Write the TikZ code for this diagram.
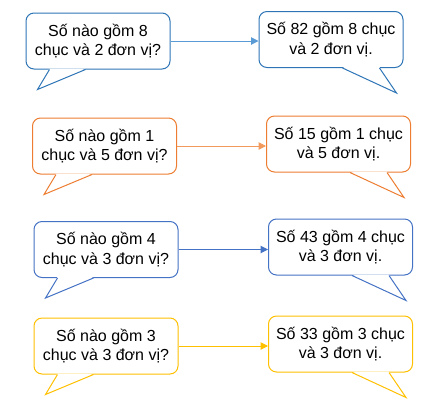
\documentclass[tikz,border=0pt]{standalone}
\usepackage{fontspec}
\setmainfont{Liberation Sans}
\definecolor{qblue}{HTML}{2E75B6}
\definecolor{qlightblue}{HTML}{5B9BD5}
\definecolor{qorange}{HTML}{ED7D31}
\definecolor{qlightorange}{HTML}{F29A5E}
\definecolor{qindigo}{HTML}{4472C4}
\definecolor{qgold}{HTML}{FFC000}
\usetikzlibrary{arrows.meta,calc}

\tikzset{
  bubble/.style={draw,fill=white,rounded corners=6pt,line width=0.75pt,
        minimum width=108pt,minimum height=42pt,align=center,inner sep=0pt,
        font=\fontsize{12}{14.5}\selectfont},
  link/.style={-{Triangle[length=5.5pt,width=5.5pt]},line width=0.75pt},
}

\begin{document}
\begin{tikzpicture}[x=0.75pt,y=-0.75pt]
  \useasboundingbox (0,0) rectangle (436,401);
  % row 1
  \node[bubble,draw=qblue] (q1) at (98,41) {Số nào gồm 8\\chục và 2 đơn vị?};
  \node[bubble,draw=qblue] (a1) at (331,39.5) {Số 82 gồm 8 chục\\và 2 đơn vị.};
  \fill[white] ($(q1.south west)+(24,-1)$) -- ($(q1.south west)+(12,20)$) -- ($(q1.south west)+(60,-1)$) -- cycle;
  \draw[qblue,line width=0.75pt] ($(q1.south west)+(24,0)$) -- ($(q1.south west)+(12,20)$) -- ($(q1.south west)+(60,0)$);
  \fill[white] ($(a1.south west)+(84,-1)$) -- ($(a1.south west)+(138,25)$) -- ($(a1.south west)+(121,-1)$) -- cycle;
  \draw[qblue,line width=0.75pt] ($(a1.south west)+(84,0)$) -- ($(a1.south west)+(138,25)$) -- ($(a1.south west)+(121,0)$);
  \draw[link,qlightblue] (q1.east) -- (q1.east -| a1.west);
  % row 2
  \node[bubble,draw=qorange] (q2) at (104.5,146) {Số nào gồm 1\\chục và 5 đơn vị?};
  \node[bubble,draw=qorange] (a2) at (338.5,144) {Số 15 gồm 1 chục\\và 5 đơn vị.};
  \fill[white] ($(q2.south west)+(24,-1)$) -- ($(q2.south west)+(12,20)$) -- ($(q2.south west)+(60,-1)$) -- cycle;
  \draw[qorange,line width=0.75pt] ($(q2.south west)+(24,0)$) -- ($(q2.south west)+(12,20)$) -- ($(q2.south west)+(60,0)$);
  \fill[white] ($(a2.south west)+(84,-1)$) -- ($(a2.south west)+(138,25)$) -- ($(a2.south west)+(121,-1)$) -- cycle;
  \draw[qorange,line width=0.75pt] ($(a2.south west)+(84,0)$) -- ($(a2.south west)+(138,25)$) -- ($(a2.south west)+(121,0)$);
  \draw[link,qlightorange] (q2.east) -- (q2.east -| a2.west);
  % row 3
  \node[bubble,draw=qindigo] (q3) at (106,249.5) {Số nào gồm 4\\chục và 3 đơn vị?};
  \node[bubble,draw=qindigo] (a3) at (340.5,247) {Số 43 gồm 4 chục\\và 3 đơn vị.};
  \fill[white] ($(q3.south west)+(24,-1)$) -- ($(q3.south west)+(12,20)$) -- ($(q3.south west)+(60,-1)$) -- cycle;
  \draw[qindigo,line width=0.75pt] ($(q3.south west)+(24,0)$) -- ($(q3.south west)+(12,20)$) -- ($(q3.south west)+(60,0)$);
  \fill[white] ($(a3.south west)+(84,-1)$) -- ($(a3.south west)+(138,25)$) -- ($(a3.south west)+(121,-1)$) -- cycle;
  \draw[qindigo,line width=0.75pt] ($(a3.south west)+(84,0)$) -- ($(a3.south west)+(138,25)$) -- ($(a3.south west)+(121,0)$);
  \draw[link,qindigo] (q3.east) -- (q3.east -| a3.west);
  % row 4
  \node[bubble,draw=qgold] (q4) at (106,346) {Số nào gồm 3\\chục và 3 đơn vị?};
  \node[bubble,draw=qgold] (a4) at (340.5,344) {Số 33 gồm 3 chục\\và 3 đơn vị.};
  \fill[white] ($(q4.south west)+(24,-1)$) -- ($(q4.south west)+(12,20)$) -- ($(q4.south west)+(60,-1)$) -- cycle;
  \draw[qgold,line width=0.75pt] ($(q4.south west)+(24,0)$) -- ($(q4.south west)+(12,20)$) -- ($(q4.south west)+(60,0)$);
  \fill[white] ($(a4.south west)+(84,-1)$) -- ($(a4.south west)+(138,25)$) -- ($(a4.south west)+(121,-1)$) -- cycle;
  \draw[qgold,line width=0.75pt] ($(a4.south west)+(84,0)$) -- ($(a4.south west)+(138,25)$) -- ($(a4.south west)+(121,0)$);
  \draw[link,qgold] (q4.east) -- (q4.east -| a4.west);
\end{tikzpicture}
\end{document}
